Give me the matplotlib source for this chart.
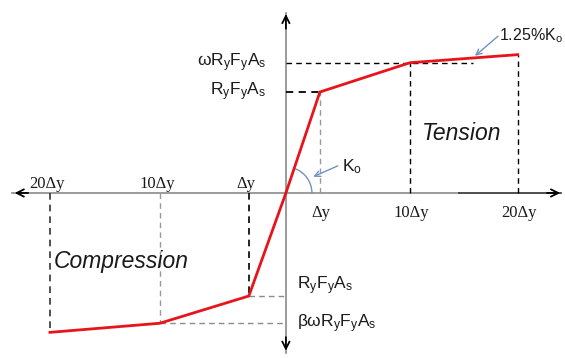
import matplotlib
matplotlib.use("Agg")
import matplotlib.pyplot as plt
from matplotlib.patches import Arc

plt.rcParams["font.family"] = ["Liberation Sans", "DejaVu Sans"]
plt.rcParams["mathtext.fontset"] = "custom"
plt.rcParams["mathtext.rm"] = "Liberation Sans"
plt.rcParams["mathtext.it"] = "Liberation Sans:italic"

# Backbone points (schematic units: x in yield displacements, y in RyFyAs)
tension_disp = [0, 1.0, 3.65, 6.82]
tension_force = [0, 1.0, 1.29, 1.37]
compression_disp = [-1.09, -3.71, -6.94]
compression_force = [-1.02, -1.29, -1.38]

tension_labels = ["Δy", "10Δy", "20Δy"]
compression_labels = ["Δy", "10Δy", "20Δy"]

red = "#e8141b"
blue = "#7391c4"
grey = "#8a8a8a"
txt = "#1a1a1a"

fig = plt.figure(figsize=(5.65, 3.58), dpi=100)
ax = fig.add_axes([0, 0, 1, 1])
ax.set_xlim(-8.41, 8.21)
ax.set_ylim(-1.634, 1.911)
ax.axis("off")

# axes with arrows
ax.plot([-8.06, 5.1], [0, 0], color=grey, lw=1.2)
ax.plot([5.1, 8.1], [0, 0], color="#303030", lw=1.2)
ax.plot([0, 0], [-1.58, 1.78], color=grey, lw=1.2)
arr = dict(arrowstyle="->", color="black", lw=1.3, mutation_scale=13)
ax.annotate("", xy=(8.15, 0), xytext=(7.6, 0), arrowprops=arr)
ax.annotate("", xy=(-8.06, 0), xytext=(-7.5, 0), arrowprops=arr)
ax.annotate("", xy=(0, 1.80), xytext=(0, 1.6), arrowprops=arr)
ax.annotate("", xy=(0, -1.59), xytext=(0, -1.4), arrowprops=arr)

# guide lines, tension side
ax.plot([0, 5.5], [tension_force[2]] * 2, color="black", lw=1.0, ls=(0, (4, 3)))
ax.plot([0, tension_disp[1]], [tension_force[1]] * 2, color="black", lw=1.3, ls=(0, (4, 3)))
ax.plot([tension_disp[1]] * 2, [0, tension_force[1]], color="#999999", lw=1.0, ls=(0, (4, 3)))
for d, f in zip(tension_disp[2:], tension_force[2:]):
    ax.plot([d, d], [0, f], color="black", lw=1.0, ls=(0, (4, 3)))

# guide lines, compression side
ax.plot([compression_disp[0]] * 2, [0, compression_force[0]], color="black", lw=1.2, ls=(0, (4, 3)))
ax.plot([compression_disp[1]] * 2, [0, compression_force[1]], color="#999999", lw=1.0, ls=(0, (4, 3)))
ax.plot([compression_disp[2]] * 2, [0, compression_force[2]], color="#333333", lw=1.2, ls=(0, (4, 3)))
ax.plot([compression_disp[0], 0], [compression_force[0]] * 2, color=grey, lw=1.0, ls=(0, (4, 3)))
ax.plot([compression_disp[1], 0], [compression_force[1]] * 2, color=grey, lw=1.0, ls=(0, (4, 3)))

# backbone curve
curve_x = compression_disp[::-1] + tension_disp
curve_y = compression_force[::-1] + tension_force
ax.plot(curve_x, curve_y, color=red, lw=2.0, solid_joinstyle="miter")

# stiffness arc and pointers
ax.add_patch(Arc((0, 0), 1.53, 0.515, theta1=0, theta2=43, color=blue, lw=1.0))
ax.annotate("", xy=(0.73, 0.15), xytext=(1.6, 0.28),
            arrowprops=dict(arrowstyle="->", color=blue, lw=1.0))
ax.annotate("", xy=(5.5, 1.34), xytext=(6.3, 1.57),
            arrowprops=dict(arrowstyle="->", color=blue, lw=1.0))

# text labels
fs = 12.5
ax.text(1.65, 0.26, r"K$_\mathrm{o}$", fontsize=fs, va="center", ha="left", color=txt)
ax.text(6.27, 1.56, r"1.25%K$_\mathrm{o}$", fontsize=11.5, va="center", ha="left", color=txt)
ax.text(-0.56, tension_force[2], r"ωR$_\mathrm{y}$F$_\mathrm{y}$A$_\mathrm{s}$",
        fontsize=fs, va="center", ha="right", color=txt)
ax.text(-0.6, tension_force[1], r"R$_\mathrm{y}$F$_\mathrm{y}$A$_\mathrm{s}$",
        fontsize=fs, va="center", ha="right", color=txt)
ax.text(0.32, -0.92, r"R$_\mathrm{y}$F$_\mathrm{y}$A$_\mathrm{s}$",
        fontsize=fs, va="center", ha="left", color=txt)
ax.text(0.32, compression_force[1], r"βωR$_\mathrm{y}$F$_\mathrm{y}$A$_\mathrm{s}$",
        fontsize=fs, va="center", ha="left", color=txt)

serif = ["Liberation Serif", "DejaVu Serif"]
for d, lab in zip(tension_disp[1:], tension_labels):
    ax.text(d + 0.03, -0.2, lab, fontsize=12, ha="center", va="center", family=serif, color=txt)
for d, lab in zip(compression_disp, compression_labels):
    ax.text(d - 0.08, 0.09, lab, fontsize=12, ha="center", va="center", family=serif, color=txt)

ax.text(5.18, 0.59, "Tension", fontsize=16.5, style="italic", ha="center", va="center", color=txt)
ax.text(-4.85, -0.68, "Compression", fontsize=16.5, style="italic", ha="center", va="center", color=txt)

fig.savefig("out.png", dpi=100)
